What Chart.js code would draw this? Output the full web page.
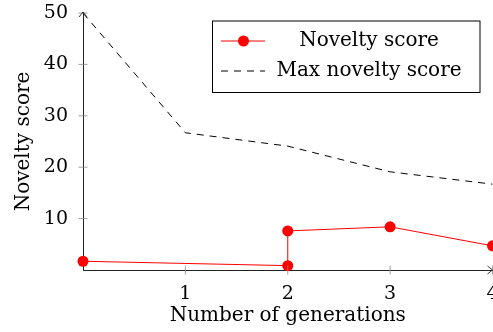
<!DOCTYPE html>
<html>
<head>
<meta charset="utf-8">
<script src="https://cdn.jsdelivr.net/npm/chart.js@4"></script>
<style>
html,body{margin:0;padding:0;background:#fff;overflow:hidden;width:493px;height:332px;}
canvas{display:block;}
</style>
</head>
<body>
<canvas id="c" width="498" height="332"></canvas>
<script>
// ---- data ----
const noveltyGen = [0, 2, 2, 3, 4];
const noveltyScore = [1.7, 0.85, 7.6, 8.4, 4.7];
const maxGen = [0, 1, 2, 3, 4];
const maxNoveltyScore = [50, 26.7, 24.1, 19.1, 16.7];
const xTicks = [1, 2, 3, 4];
const yTicks = [10, 20, 30, 40, 50];
const seriesLabels = ['Novelty score', 'Max novelty score'];
const xTitle = 'Number of generations';
const yTitle = 'Novelty score';

const FONT = 'DejaVu Serif';

const toPts = (xs, ys) => xs.map((x, i) => ({x: x, y: ys[i]}));

const axisDecor = {
  id: 'axisDecor',
  afterDatasetsDraw(chart) {
    const ctx = chart.ctx, a = chart.chartArea;
    const xs = chart.scales.x, ys = chart.scales.y;
    ctx.save();
    // tick marks crossing the axes
    ctx.strokeStyle = '#888';
    ctx.lineWidth = 0.8;
    ctx.beginPath();
    xTicks.forEach(v => { const p = xs.getPixelForValue(v); ctx.moveTo(p, a.bottom - 4.5); ctx.lineTo(p, a.bottom + 4.5); });
    yTicks.forEach(v => { const p = ys.getPixelForValue(v); ctx.moveTo(a.left - 4.5, p); ctx.lineTo(a.left + 4.5, p); });
    ctx.stroke();
    // arrow heads
    ctx.strokeStyle = '#222';
    ctx.lineWidth = 0.9;
    ctx.beginPath();
    ctx.moveTo(a.left, a.top); ctx.lineTo(a.left, a.top - 1);
    ctx.moveTo(a.left - 4, a.top + 4); ctx.lineTo(a.left, a.top - 1); ctx.lineTo(a.left + 4, a.top + 4);
    ctx.moveTo(a.right - 5, a.bottom - 4); ctx.lineTo(a.right, a.bottom); ctx.lineTo(a.right - 5, a.bottom + 4);
    ctx.stroke();
    ctx.restore();
  },
  afterDraw(chart) {
    const ctx = chart.ctx;
    ctx.save();
    const bx = 212.5, by = 21, bw = 267.5, bh = 71.5;
    ctx.fillStyle = '#fff';
    ctx.fillRect(bx, by, bw, bh);
    ctx.strokeStyle = '#000';
    ctx.lineWidth = 1;
    ctx.strokeRect(bx, by, bw, bh);
    const rows = [41, 71];
    chart.data.datasets.forEach((ds, i) => {
      const y = rows[i];
      ctx.strokeStyle = ds.borderColor;
      ctx.lineWidth = ds.borderWidth;
      ctx.setLineDash(ds.borderDash || []);
      ctx.beginPath();
      ctx.moveTo(221, y); ctx.lineTo(265, y);
      ctx.stroke();
      ctx.setLineDash([]);
      if (ds.pointRadius > 0) {
        ctx.fillStyle = ds.pointBackgroundColor;
        ctx.beginPath();
        ctx.arc(243.5, y, ds.pointRadius, 0, Math.PI * 2);
        ctx.fill();
      }
      ctx.fillStyle = '#000';
      ctx.font = '20px "' + FONT + '"';
      ctx.textAlign = 'center';
      ctx.textBaseline = 'middle';
      ctx.fillText(ds.label, 369, y);
    });
    ctx.restore();
  }
};

new Chart(document.getElementById('c'), {
  type: 'line',
  data: {
    datasets: [
      {
        label: seriesLabels[0],
        data: toPts(noveltyGen, noveltyScore),
        borderColor: '#ff0000',
        backgroundColor: '#ff0000',
        pointBackgroundColor: '#ff0000',
        pointBorderWidth: 0,
        pointRadius: 5.5,
        borderWidth: 1,
        tension: 0,
        clip: false,
        order: 1
      },
      {
        label: seriesLabels[1],
        data: toPts(maxGen, maxNoveltyScore),
        borderColor: '#000',
        borderWidth: 1,
        borderDash: [7, 6],
        pointRadius: 0,
        tension: 0,
        clip: false,
        order: 2
      }
    ]
  },
  options: {
    responsive: false,
    animation: false,
    events: [],
    layout: {padding: {left: 0, top: 13, right: 0, bottom: 0}},
    plugins: {legend: {display: false}, tooltip: {enabled: false}},
    scales: {
      x: {
        type: 'linear',
        min: 0, max: 4,
        afterBuildTicks(s) { s.ticks = xTicks.map(v => ({value: v})); },
        afterFit(s) { s.height = 62; s.paddingLeft = 0; s.paddingRight = 0; },
        grid: {display: true, drawOnChartArea: false, drawTicks: false, color: 'rgba(0,0,0,0)'},
        border: {display: true, color: '#222', width: 1},
        ticks: {
          padding: 13,
          color: '#000',
          font: {family: FONT, size: 19},
          maxRotation: 0,
          autoSkip: false
        },
        title: {display: true, text: xTitle, color: '#000', font: {family: FONT, size: 20}, padding: {top: 0, bottom: 4}}
      },
      y: {
        type: 'linear',
        min: 0, max: 50,
        afterBuildTicks(s) { s.ticks = yTicks.map(v => ({value: v})); },
        afterFit(s) { s.width = 83; s.paddingTop = 0; s.paddingBottom = 0; },
        grid: {display: true, drawOnChartArea: false, drawTicks: false, color: 'rgba(0,0,0,0)'},
        border: {display: true, color: '#222', width: 1},
        ticks: {
          padding: 15,
          color: '#000',
          font: {family: FONT, size: 19},
          autoSkip: false
        },
        title: {display: true, text: yTitle, color: '#000', font: {family: FONT, size: 20}, padding: {top: 12, bottom: 0}}
      }
    }
  },
  plugins: [axisDecor]
});
</script>
</body>
</html>
